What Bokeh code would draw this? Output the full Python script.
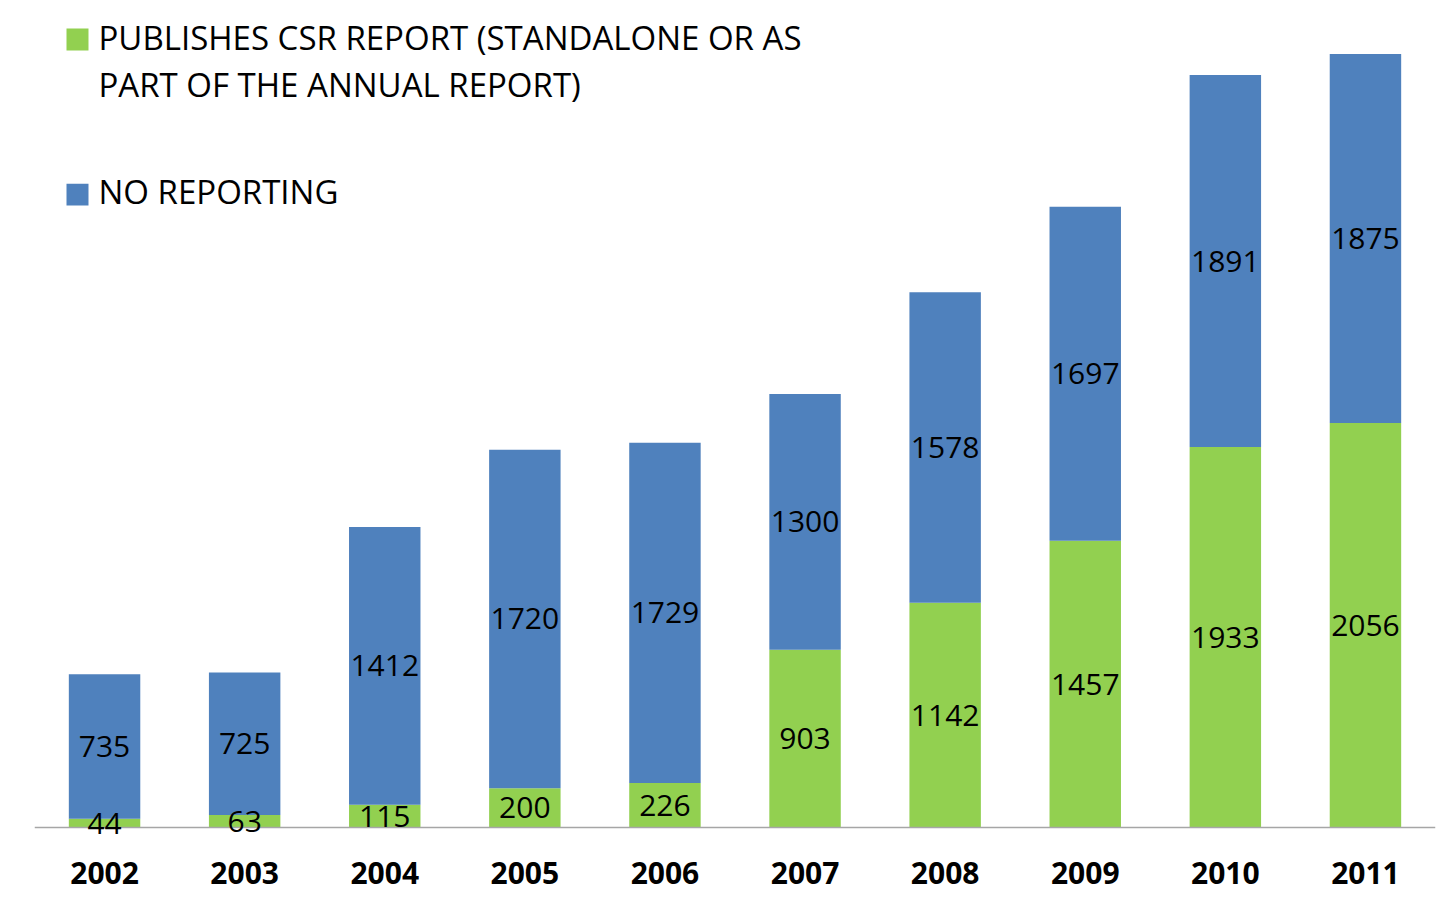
from bokeh.plotting import figure
from bokeh.models import ColumnDataSource, Range1d, Label, BoxAnnotation, LabelSet, Span
from bokeh.core.properties import value
from bokeh.embed import file_html
from bokeh.resources import INLINE

years = ["2002", "2003", "2004", "2005", "2006", "2007", "2008", "2009", "2010", "2011"]
publishes = [44, 63, 115, 200, 226, 903, 1142, 1457, 1933, 2056]
no_reporting = [735, 725, 1412, 1720, 1729, 1300, 1578, 1697, 1891, 1875]
series_names = ["PUBLISHES CSR REPORT (STANDALONE OR AS\nPART OF THE ANNUAL REPORT)", "NO REPORTING"]

GREEN = "#92D050"
BLUE = "#4F81BD"
FONT = "Open Sans"

src = ColumnDataSource(dict(
    years=years,
    publishes=publishes,
    no_reporting=no_reporting,
    pub_mid=[g / 2 for g in publishes],
    nr_mid=[g + b / 2 for g, b in zip(publishes, no_reporting)],
    pub_txt=[str(v) for v in publishes],
    nr_txt=[str(v) for v in no_reporting],
))

p = figure(x_range=years, y_range=Range1d(-91.5, 4162), width=1455, height=903,
           output_backend="svg", toolbar_location=None,
           min_border_left=34, min_border_right=20, min_border_top=8, min_border_bottom=58)
p.x_range.range_padding = 0
p.outline_line_color = None
p.grid.visible = False
p.yaxis.visible = False

p.vbar_stack(["publishes", "no_reporting"], x="years", width=0.51, source=src,
             color=[GREEN, BLUE], line_color=None)

# baseline (category axis line at zero)
p.add_layout(Span(location=0, dimension="width", line_color="#A6A6A6", line_width=1.5))

for col, txt in (("pub_mid", "pub_txt"), ("nr_mid", "nr_txt")):
    p.add_layout(LabelSet(x="years", y=col, text=txt, source=src, text_align="center",
                          text_baseline="middle", text_font=value(FONT),
                          text_font_size="30px", text_color="#000000"))

ax = p.xaxis[0]
ax.axis_line_color = None
ax.major_tick_line_color = None
ax.minor_tick_line_color = None
ax.major_label_standoff = 10
ax.major_label_text_font = FONT
ax.major_label_text_font_style = "bold"
ax.major_label_text_font_size = "30px"
ax.major_label_text_color = "#000000"

# legend (manual)
p.add_layout(BoxAnnotation(left=0.2284, right=0.3854, top=4060, bottom=3948,
                           fill_color=GREEN, fill_alpha=1, line_color=None))
p.add_layout(BoxAnnotation(left=0.2284, right=0.3854, top=3272, bottom=3161,
                           fill_color=BLUE, fill_alpha=1, line_color=None))
line1, line2 = series_names[0].split("\n")
for txt, y in ((line1, 4015), (line2, 3778), (series_names[1], 3230)):
    p.add_layout(Label(x=0.4568, y=y, text=txt, text_align="left", text_baseline="middle",
                       text_font=FONT, text_font_size="33px", text_color="#000000"))

open("out.html", "w").write(file_html(p, INLINE))
